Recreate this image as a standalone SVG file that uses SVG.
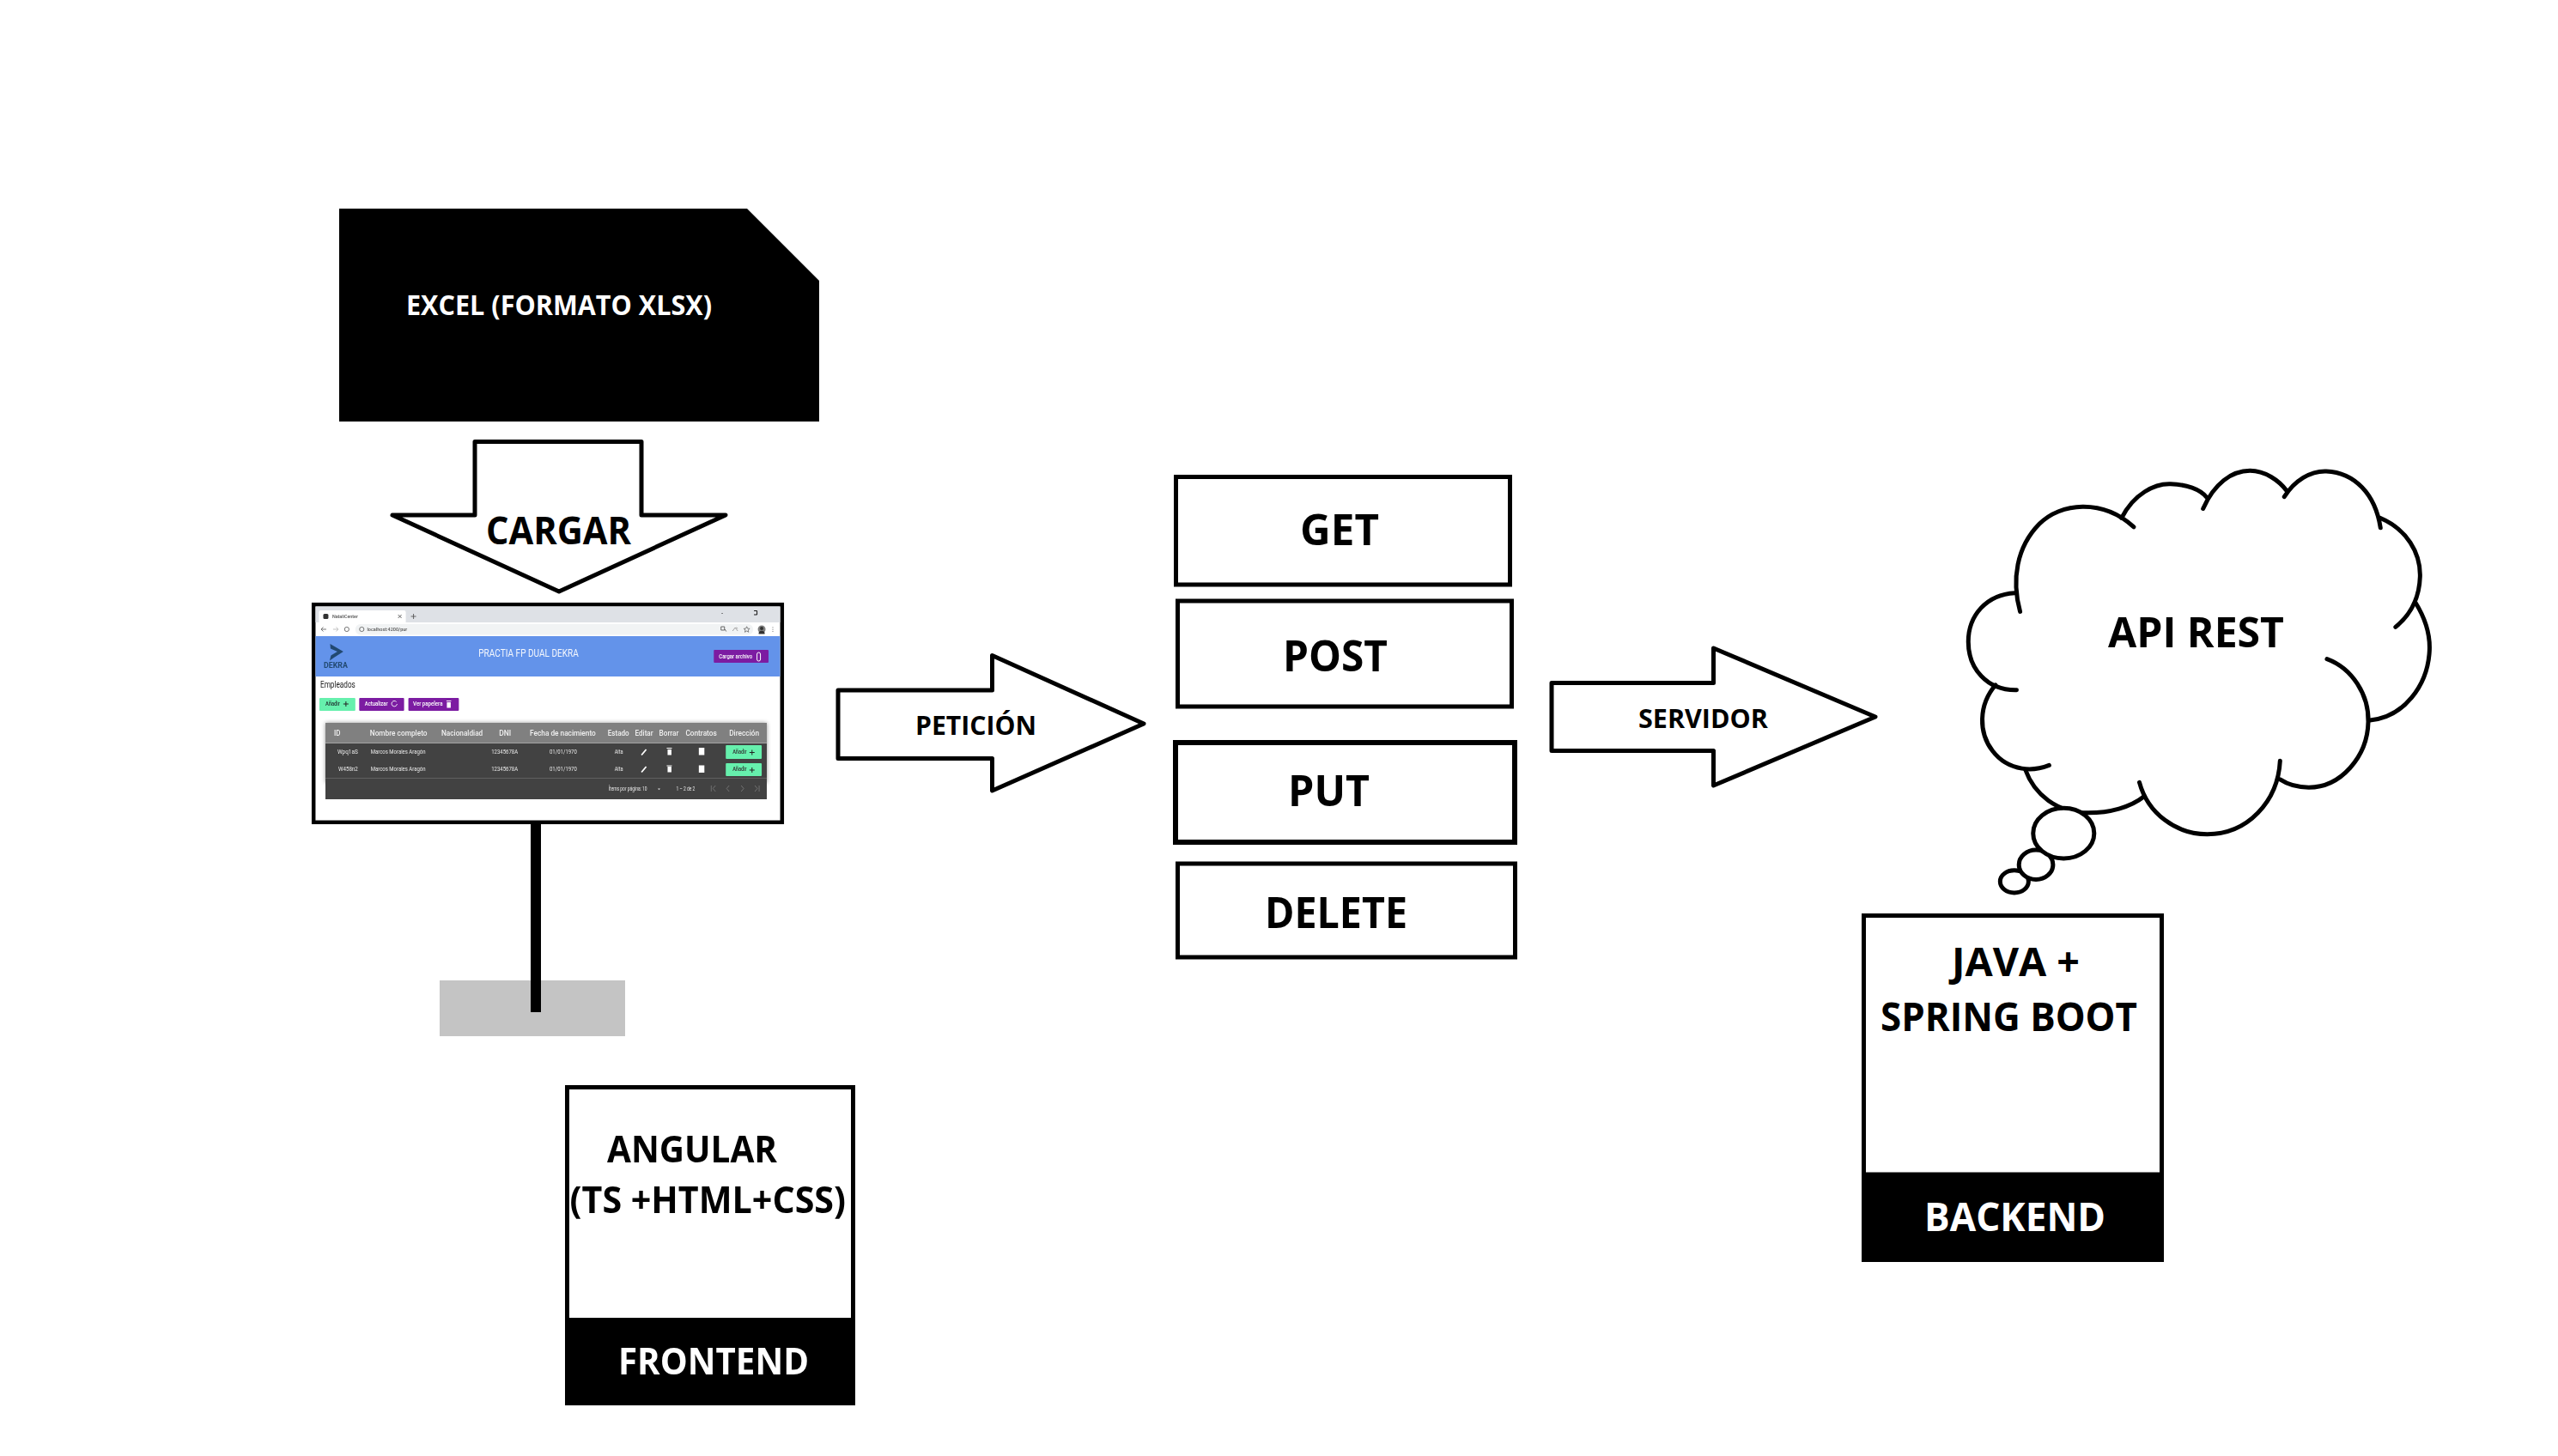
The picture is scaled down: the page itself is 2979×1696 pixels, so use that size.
<svg xmlns="http://www.w3.org/2000/svg" width="2979" height="1696" viewBox="0 0 2979 1696">
<defs>
<style>
text{font-family:"Open Sans","Noto Sans","Liberation Sans",sans-serif}
.lbl{font-weight:700;fill:#000}
.inv{font-weight:700;fill:#fff}
.box{fill:#fff;stroke:#000;stroke-width:5}
.blk{fill:#000}
.arrow{fill:#fff;stroke:#000;stroke-width:5;stroke-linejoin:round}
.cloud{fill:none;stroke:#000;stroke-width:5;stroke-linecap:round;vector-effect:non-scaling-stroke}
.bub{fill:#fff;stroke:#000;stroke-width:5;vector-effect:non-scaling-stroke}
.ui{font-family:Roboto,"Liberation Sans",sans-serif;font-weight:500}
.th{font-family:Roboto,"Liberation Sans",sans-serif;font-size:8.5px;fill:#f0f0f0;font-weight:500}
.td{font-family:Roboto,"Liberation Sans",sans-serif;font-size:6.3px;fill:#e8e8e8}
.pur{fill:#7b1fa2}
.grn{fill:#66f0ad}
.ico{fill:#fff}
.plus{stroke:#222;stroke-width:1;fill:none}
.gr{stroke:#777;stroke-width:.9;fill:none}
</style>
<filter id="sh" x="-5%" y="-10%" width="110%" height="120%"><feGaussianBlur stdDeviation="2.5"/></filter>
<filter id="soft" x="-1%" y="-1%" width="102%" height="102%"><feGaussianBlur stdDeviation=".35"/></filter>
</defs>
<rect width="2979" height="1696" fill="#fff"/>

<g id="excel">
<polygon class="blk" points="395,243 870,243 954,327 954,491 395,491"/>
<text class="inv" x="473" y="367" font-size="32" textLength="356" lengthAdjust="spacingAndGlyphs">EXCEL (FORMATO XLSX)</text>
</g>

<g id="connectors">
<polygon class="arrow" points="553,514.500 747,514.500 747,600 845,600 651,689 457,600 553,600"/>
<text class="lbl" x="566" y="634" font-size="45" textLength="169" lengthAdjust="spacingAndGlyphs">CARGAR</text>
<polygon class="arrow" points="976,804 1155.500,804 1155.500,763.500 1332,843 1155.500,921 1155.500,883.500 976,883.500"/>
<text class="lbl" x="1066" y="856" font-size="31" textLength="141" lengthAdjust="spacingAndGlyphs">PETICIÓN</text>
<polygon class="arrow" points="1807,795.500 1995.500,795.500 1995.500,755 2184,835 1995.500,915 1995.500,874.500 1807,874.500"/>
<text class="lbl" x="1908" y="848" font-size="31" textLength="151" lengthAdjust="spacingAndGlyphs">SERVIDOR</text>
</g>

<g id="monitor">
<rect x="512" y="1142" width="216" height="65" fill="#c4c4c4"/>
<rect class="blk" x="618" y="958" width="12" height="221"/>
<rect x="365.200" y="704.200" width="545.600" height="253.600" fill="#fff" stroke="#000" stroke-width="4.500"/>
<g id="screen" transform="translate(365 0) scale(.9963 1) translate(-365 0)" filter="url(#soft)">
<rect x="367.500" y="706.500" width="543" height="18.500" fill="#dee1e6"/>
<path d="M371.500 725V713a2 2 0 0 1 2-2H471a2 2 0 0 1 2 2V725Z" fill="#fff"/>
<rect x="376.500" y="715" width="6" height="6" rx="1.500" fill="#333"/>
<text class="ui" x="387" y="720" font-size="6" fill="#555" textLength="30" lengthAdjust="spacingAndGlyphs">NataliCenter</text>
<path d="M464 716l4 4M468 716l-4 4M479 718h6M482 715v6" stroke="#555" stroke-width=".9" fill="none"/>
<rect x="842.300" y="714" width="1" height="1" fill="#222"/>
<path d="M880 711.500h3.500v4.500H880" fill="none" stroke="#111" stroke-width="1"/>
<rect x="414" y="727" width="465" height="12.500" rx="6" fill="#f1f3f4"/>
<path d="M374 733h6M374 733l2.500-2.500M374 733l2.500 2.500" stroke="#666" stroke-width=".9" fill="none"/>
<path d="M388 733h6M394 733l-2.500-2.500M394 733l-2.500 2.500" stroke="#bbb" stroke-width=".9" fill="none"/>
<circle cx="404" cy="733" r="2.600" fill="none" stroke="#666" stroke-width=".9"/>
<circle cx="421.500" cy="733" r="2.600" fill="none" stroke="#555" stroke-width=".8"/>
<text class="ui" x="427.700" y="735" font-size="6" fill="#555" textLength="47" lengthAdjust="spacingAndGlyphs">localhost:4200/pur</text>
<path d="M841.500 730h4v4h-4ZM846 733l1.500 2.500" stroke="#666" stroke-width="1" fill="none"/>
<path d="M855 735l3-4 3 4M859 731l2 1" stroke="#999" stroke-width=".9" fill="none"/>
<path d="M871.500 729.800l1 2.300 2.500.2-1.900 1.600.6 2.400-2.200-1.300-2.200 1.300.6-2.400-1.900-1.600 2.500-.2Z" fill="none" stroke="#666" stroke-width=".8"/>
<circle cx="889" cy="733" r="4.500" fill="#7f7f7f"/>
<path d="M885.500 737c1-3 6-3 7 0v1.500h-7ZM887 732a2 2 0 1 1 4 0a2 2 0 1 1-4 0" fill="#333"/>
<path d="M902 730.500v.8M902 732.800v.8M902 735v.8" stroke="#555" stroke-width="1"/>

<rect x="367.500" y="741" width="543" height="47" fill="#6393ea"/>
<path d="M384.500 750l15.500 9-11 7-5 3.500 1.500-6 7.500-4.500-8-3.500Z" fill="#234a71"/>
<text class="ui" x="377" y="778" font-size="8.500" fill="#234a71" textLength="28" lengthAdjust="spacingAndGlyphs" style="font-weight:700">DEKRA</text>
<text class="ui" x="558" y="765" font-size="12" fill="#f4f7fd" textLength="117" lengthAdjust="spacingAndGlyphs" style="font-weight:400">PRACTIA FP DUAL DEKRA</text>
<rect class="pur" x="833" y="757" width="64" height="15" rx="1"/>
<text class="ui" x="839" y="767" font-size="7" fill="#fff" textLength="39" lengthAdjust="spacingAndGlyphs">Cargar archivo</text>
<rect x="883.500" y="760" width="4" height="10" rx="2" fill="none" stroke="#fff" stroke-width="1"/>

<text class="ui" x="373" y="801.500" font-size="11" fill="#222" textLength="41" lengthAdjust="spacingAndGlyphs" style="font-weight:400">Empleados</text>
<rect class="grn" x="372" y="813" width="42" height="15" rx="1"/>
<text class="ui" x="379" y="822.500" font-size="6.500" fill="#233" textLength="17" lengthAdjust="spacingAndGlyphs">Añadir</text>
<path class="plus" d="M400 820h6M403 817v6"/>
<rect class="pur" x="418.500" y="813" width="52.500" height="15" rx="1"/>
<text class="ui" x="425" y="822.500" font-size="6.500" fill="#fff" textLength="27" lengthAdjust="spacingAndGlyphs">Actualizar</text>
<path d="M462 817.500a3.200 3.200 0 1 0 .8 2.500" stroke="#fff" stroke-width=".9" fill="none"/>
<rect class="pur" x="476" y="813" width="59" height="15" rx="1"/>
<text class="ui" x="481.500" y="822.500" font-size="6.500" fill="#fff" textLength="34.500" lengthAdjust="spacingAndGlyphs">Ver papelera</text>
<path class="ico" d="M520.500 816h5.500v1h-5.500ZM521 818h4.500v6.500H521Z"/>

<rect x="379" y="842" width="516" height="70" fill="#000" opacity=".4" filter="url(#sh)"/>
<rect x="379" y="842" width="516" height="89" fill="#424242"/>
<rect x="379" y="842" width="516" height="23" fill="#808080"/>
<rect x="379" y="865" width="516" height="1" fill="#a3a3a3"/>
<rect x="379" y="906" width="516" height="1" fill="#5e5e5e"/>
<text class="th" x="389" y="857" textLength="7.500" lengthAdjust="spacingAndGlyphs">ID</text>
<text class="th" x="431" y="857" textLength="67" lengthAdjust="spacingAndGlyphs">Nombre completo</text>
<text class="th" x="514.600" y="857" textLength="48.400" lengthAdjust="spacingAndGlyphs">Nacionaldiad</text>
<text class="th" x="582" y="857" textLength="14" lengthAdjust="spacingAndGlyphs">DNI</text>
<text class="th" x="618" y="857" textLength="77" lengthAdjust="spacingAndGlyphs">Fecha de nacimiento</text>
<text class="th" x="709" y="857" textLength="25" lengthAdjust="spacingAndGlyphs">Estado</text>
<text class="th" x="741" y="857" textLength="21" lengthAdjust="spacingAndGlyphs">Editar</text>
<text class="th" x="769" y="857" textLength="23" lengthAdjust="spacingAndGlyphs">Borrar</text>
<text class="th" x="800" y="857" textLength="36.500" lengthAdjust="spacingAndGlyphs">Contratos</text>
<text class="th" x="851" y="857" textLength="35" lengthAdjust="spacingAndGlyphs">Dirección</text>
<text class="td" x="393" y="878" textLength="24" lengthAdjust="spacingAndGlyphs">Wpq1aS</text>
<text class="td" x="432" y="878" textLength="64" lengthAdjust="spacingAndGlyphs">Marcos Morales Aragón</text>
<text class="td" x="573" y="878" textLength="31" lengthAdjust="spacingAndGlyphs">12345678A</text>
<text class="td" x="641" y="878" textLength="32" lengthAdjust="spacingAndGlyphs">01/01/1970</text>
<text class="td" x="717" y="878" textLength="10" lengthAdjust="spacingAndGlyphs">Alta</text>
<text class="td" x="394" y="898.300" textLength="23" lengthAdjust="spacingAndGlyphs">W458n2</text>
<text class="td" x="432" y="898.300" textLength="64" lengthAdjust="spacingAndGlyphs">Marcos Morales Aragón</text>
<text class="td" x="573" y="898.300" textLength="31" lengthAdjust="spacingAndGlyphs">12345678A</text>
<text class="td" x="641" y="898.300" textLength="32" lengthAdjust="spacingAndGlyphs">01/01/1970</text>
<text class="td" x="717" y="898.300" textLength="10" lengthAdjust="spacingAndGlyphs">Alta</text>
<path d="M748.500 879.500l5.500-6.500M748.500 899.500l5.500-6.500" stroke="#fff" stroke-width="1.800" fill="none"/>
<path class="ico" d="M778 871h6v1h-6ZM779 873h4.500v6.500H779ZM778 891.500h6v1h-6ZM779 893h4.500v6.500H779ZM815.500 871h6.500v8.500h-6.500ZM815.500 891.500h6.500v8.500h-6.500Z"/>
<rect class="grn" x="847" y="868" width="42" height="16" rx="1"/>
<rect class="grn" x="847" y="889" width="42" height="15" rx="1"/>
<text class="ui" x="855" y="878.500" font-size="6.300" fill="#333" textLength="16.500" lengthAdjust="spacingAndGlyphs">Añadir</text>
<text class="ui" x="855" y="898.500" font-size="6.300" fill="#333" textLength="16.500" lengthAdjust="spacingAndGlyphs">Añadir</text>
<path class="plus" d="M874.700 876.500h6M877.700 873.500v6M874.700 897h6M877.700 894v6"/>
<text class="td" x="710" y="921" textLength="45" lengthAdjust="spacingAndGlyphs">Ítems por página: 10</text>
<path d="M767.500 918.500h3l-1.500 1.800Z" fill="#ddd"/>
<text class="td" x="789" y="921" textLength="22" lengthAdjust="spacingAndGlyphs">1 – 2 de 2</text>
<path class="gr" d="M830 915v7M835 915l-3 3.500 3 3.500M851 915l-3 3.500 3 3.500M865 915l3 3.500-3 3.500M881 915l3 3.500-3 3.500M886 915v7"/>
</g>
</g>

<g id="frontend">
<rect class="blk" x="658" y="1264" width="338" height="373"/>
<rect x="663" y="1269" width="328" height="266" fill="#fff"/>
<text class="lbl" x="707" y="1354" font-size="43" textLength="198" lengthAdjust="spacingAndGlyphs">ANGULAR</text>
<text class="lbl" x="663.600" y="1413" font-size="43" textLength="321.400" lengthAdjust="spacingAndGlyphs">(TS +HTML+CSS)</text>
<text class="inv" x="720" y="1600.500" font-size="43" textLength="222" lengthAdjust="spacingAndGlyphs">FRONTEND</text>
</g>

<g id="get">
<rect class="box" x="1369.500" y="555.500" width="389" height="125.500"/>
<text class="lbl" x="1514" y="635" font-size="50" textLength="92" lengthAdjust="spacingAndGlyphs">GET</text>
</g>
<g id="post">
<rect class="box" x="1371.500" y="700" width="389" height="123"/>
<text class="lbl" x="1494" y="782" font-size="50" textLength="122" lengthAdjust="spacingAndGlyphs">POST</text>
</g>
<g id="put">
<rect class="box" x="1369" y="865" width="395" height="116" style="stroke-width:6"/>
<text class="lbl" x="1500" y="939" font-size="50" textLength="95" lengthAdjust="spacingAndGlyphs">PUT</text>
</g>
<g id="delete">
<rect class="box" x="1371.500" y="1006" width="393" height="109"/>
<text class="lbl" x="1473" y="1081" font-size="50" textLength="166" lengthAdjust="spacingAndGlyphs">DELETE</text>
</g>

<g id="api-rest">
<g transform="translate(2240.500 520) scale(.4075 .3448)">
<path class="cloud" d="M275 558C250 450 265 340 330 262C390 190 510 175 600 272"/>
<path class="cloud" d="M565 242C600 160 660 125 705 127C750 128 790 145 808 172"/>
<path class="cloud" d="M798 210C830 125 880 82 932 82C975 82 1015 115 1037 150"/>
<path class="cloud" d="M1030 170C1060 115 1105 82 1150 84C1230 88 1290 160 1305 275"/>
<path class="cloud" d="M1305 242C1380 280 1420 360 1418 440C1416 510 1395 565 1348 610"/>
<path class="cloud" d="M1405 528C1435 585 1447 640 1445 690C1440 810 1370 915 1275 925"/>
<path class="cloud" d="M1152 718C1225 750 1272 840 1270 930C1268 1050 1190 1152 1100 1152C1070 1152 1040 1142 1018 1125"/>
<path class="cloud" d="M1018 1062C1012 1200 925 1310 810 1310C720 1310 640 1240 616 1135"/>
<path class="cloud" d="M630 1182C590 1220 530 1238 470 1238C380 1238 315 1175 290 1092"/>
<path class="cloud" d="M358 1077C330 1090 300 1092 280 1088C210 1075 165 1000 167 920C168 880 180 840 205 806"/>
<path class="cloud" d="M265 823C180 825 127 750 127 660C127 570 180 500 260 495"/>
</g>
<g transform="translate(2238 520) scale(.4132 .3448)">
<ellipse class="bub" cx="261" cy="1470" rx="40" ry="38"/>
<ellipse class="bub" cx="322" cy="1413" rx="48" ry="50"/>
<ellipse class="bub" cx="400" cy="1307" rx="86" ry="85"/>
</g>
<text class="lbl" x="2455" y="754" font-size="49" textLength="205" lengthAdjust="spacingAndGlyphs">API REST</text>
</g>

<g id="backend">
<rect class="blk" x="2168" y="1064" width="352" height="406"/>
<rect x="2173" y="1069" width="342" height="296.500" fill="#fff"/>
<text class="lbl" x="2273" y="1137" font-size="46" textLength="149" lengthAdjust="spacingAndGlyphs">JAVA +</text>
<text class="lbl" x="2190" y="1201" font-size="46" textLength="299" lengthAdjust="spacingAndGlyphs">SPRING BOOT</text>
<text class="inv" x="2241" y="1434" font-size="46" textLength="211" lengthAdjust="spacingAndGlyphs">BACKEND</text>
</g>
</svg>
